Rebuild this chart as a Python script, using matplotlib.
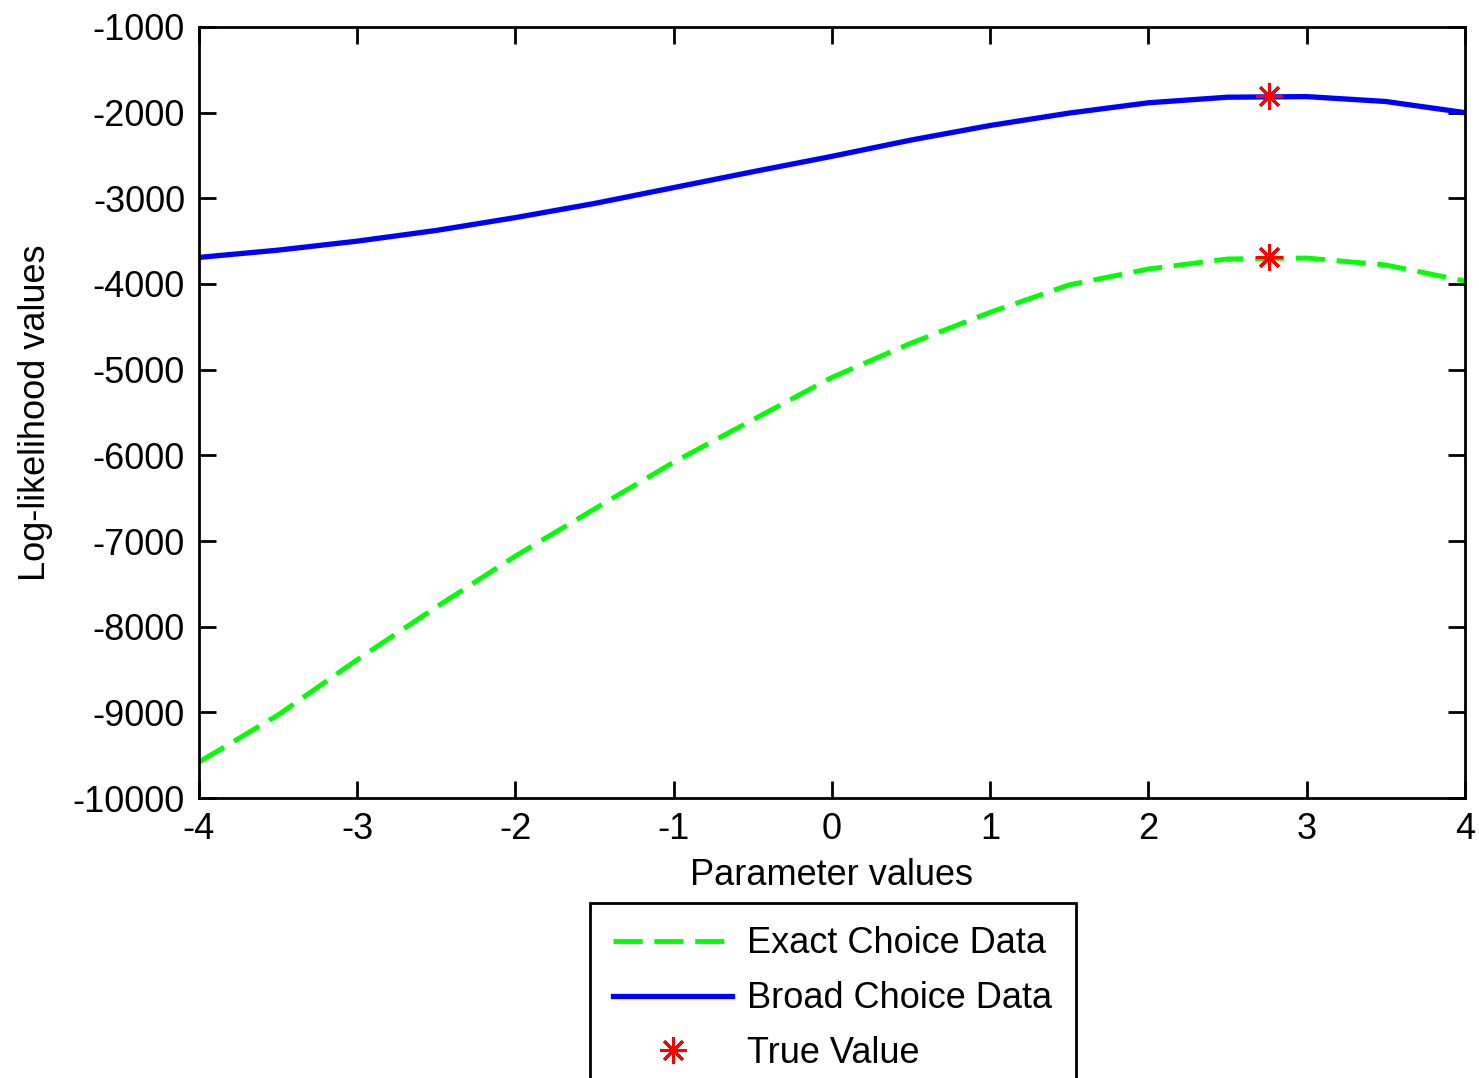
import matplotlib
matplotlib.use("Agg")
import matplotlib.pyplot as plt

# parameter grid and log-likelihood values
params = [-4, -3.5, -3, -2.5, -2, -1.5, -1, -0.5, 0, 0.5, 1, 1.5, 2, 2.5, 3, 3.5, 4]
ll_exact = [-9580, -9030, -8385, -7770, -7175, -6625, -6080, -5585, -5090,
            -4690, -4330, -4010, -3825, -3708, -3697, -3778, -3965]
ll_broad = [-3690, -3605, -3500, -3375, -3225, -3060, -2875, -2690, -2510,
            -2320, -2150, -2005, -1885, -1820, -1813, -1870, -2000]
true_x = [2.76, 2.76]
true_y = [-1810, -3690]

xticks = [-4, -3, -2, -1, 0, 1, 2, 3, 4]
yticks = [-10000, -9000, -8000, -7000, -6000, -5000, -4000, -3000, -2000, -1000]

plt.rcParams['font.family'] = ['Liberation Sans', 'DejaVu Sans']
plt.rcParams['axes.unicode_minus'] = False
fs = 26

fig = plt.figure(figsize=(14.79, 10.78), dpi=100)
ax = fig.add_axes([0.1345, 0.2597, 0.856, 0.7153])

ax.plot(params, ll_exact, color='#00ff00', lw=3.5, linestyle=(0, (6, 2.4)),
        label='Exact Choice Data')
ax.plot(params, ll_broad, color='#0000ff', lw=3.8, label='Broad Choice Data')
ax.plot(true_x, true_y, linestyle='none', marker=(8, 2, 0), markersize=19,
        markeredgewidth=2.2, color='#ff0000', label='True Value')

ax.set_xlim(-4, 4)
ax.set_ylim(-10000, -1000)
ax.set_xticks(xticks)
ax.set_yticks(yticks)
ax.set_xticklabels([str(t) for t in xticks])
ax.set_yticklabels([str(t) for t in yticks])
ax.tick_params(direction='in', top=True, right=True, length=12, width=2,
               labelsize=fs, pad=10)
for s in ax.spines.values():
    s.set_linewidth(2)

ax.set_xlabel('Parameter values', fontsize=fs, labelpad=8)
ax.set_ylabel('Log-likelihood values', fontsize=fs, labelpad=14)

leg = fig.legend(loc='upper center', bbox_to_anchor=(0.563, 0.1625),
                 fontsize=fs, frameon=True, fancybox=False, handlelength=3.3,
                 handletextpad=0.4, borderpad=0.65, labelspacing=0.55,
                 borderaxespad=0)
leg.get_frame().set_edgecolor('black')
leg.get_frame().set_linewidth(2)
leg.get_frame().set_alpha(1)

fig.savefig('out.png', dpi=100)
